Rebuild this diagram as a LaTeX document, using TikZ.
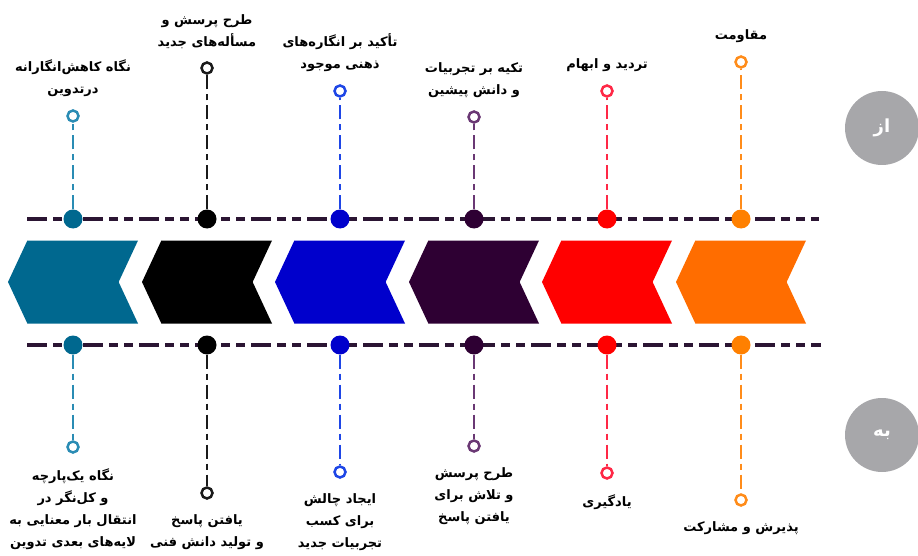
\documentclass[tikz,border=0pt]{standalone}
\usepackage{fontspec}
\usetikzlibrary{positioning}
\usetikzlibrary{shapes.symbols, positioning}
\newfontfamily\arabicfont[Script=Arabic]{DejaVu Sans}
\TeXXeTstate=1
\newcommand{\fa}[1]{\beginR #1\endR}

\definecolor{viewc}{HTML}{00688F}
\definecolor{viewl}{HTML}{2A8CB4}
\definecolor{askc}{HTML}{000000}
\definecolor{askl}{HTML}{1A1A1A}
\definecolor{stressc}{HTML}{0000CC}
\definecolor{stressl}{HTML}{1E46E6}
\definecolor{relyc}{HTML}{2E0033}
\definecolor{relyl}{HTML}{6A3874}
\definecolor{doubtc}{HTML}{FF0000}
\definecolor{doubtl}{HTML}{FF2846}
\definecolor{resc}{HTML}{FF6D00}
\definecolor{resd}{HTML}{FF8000}
\definecolor{resl}{HTML}{FF8C1A}
\definecolor{linec}{HTML}{2B1533}
\definecolor{badgec}{HTML}{A7A7AA}

\begin{document}
\begin{tikzpicture}[x=1pt, y=-1pt,
		chev/.style={shape=signal, signal to=west, signal from=east, signal pointer angle=130, minimum width=130pt, minimum height=83pt, inner sep=0pt},
		dot/.style={circle, inner sep=0pt, minimum size=19pt},
		ring/.style={circle, draw, fill=white, line width=2.5pt, inner sep=0pt, minimum size=11pt},
		vline/.style={line width=2.5pt, dash pattern=on 14pt off 5pt on 6pt off 5pt},
		hline/.style={line width=4pt, draw=linec, dash pattern=on 20pt off 6pt on 9pt off 6pt on 9pt off 6pt},
		txt/.style={font=\arabicfont\bfseries\fontsize{13}{22}\selectfont, align=center, inner sep=0pt},
		badge/.style={circle, fill=badgec, text=white, inner sep=0pt, minimum size=74pt, font=\arabicfont\bfseries\fontsize{18}{18}\selectfont}]

		\useasboundingbox (0, 0) rectangle (918, 556);

		% Dashed rails
		\begin{scope}
			\coordinate (up_l) at (27, 219);
			\coordinate (up_r) at (819, 219);
			\coordinate (down_l) at (27, 345);
			\coordinate (down_r) at (821, 345);
			\draw [hline] (up_l) -- (up_r);
			\draw [hline] (down_l) -- (down_r);
		\end{scope}

		% Chevrons
		\begin{scope}
			\node (view_chev) at (73, 282) [chev, fill=viewc] {};
			\node (ask_chev) at (207, 282) [chev, fill=askc] {};
			\node (stress_chev) at (340, 282) [chev, fill=stressc] {};
			\node (rely_chev) at (474, 282) [chev, fill=relyc] {};
			\node (doubt_chev) at (607, 282) [chev, fill=doubtc] {};
			\node (res_chev) at (741, 282) [chev, fill=resc] {};
		\end{scope}

		% Dots on the rails
		\begin{scope}
			\node (view_up) at (73, 219) [dot, fill=viewc] {};
			\node (ask_up) at (207, 219) [dot, fill=askc] {};
			\node (stress_up) at (340, 219) [dot, fill=stressc] {};
			\node (rely_up) at (474, 219) [dot, fill=relyc] {};
			\node (doubt_up) at (607, 219) [dot, fill=doubtc] {};
			\node (res_up) at (741, 219) [dot, fill=resd] {};

			\node (view_down) at (73, 345) [dot, fill=viewc] {};
			\node (ask_down) at (207, 345) [dot, fill=askc] {};
			\node (stress_down) at (340, 345) [dot, fill=stressc] {};
			\node (rely_down) at (474, 345) [dot, fill=relyc] {};
			\node (doubt_down) at (607, 345) [dot, fill=doubtc] {};
			\node (res_down) at (741, 345) [dot, fill=resd] {};
		\end{scope}

		% From (top)
		\begin{scope}
			\node (view_top) at (73, 116) [ring, draw=viewl] {};
			\node (ask_top) at (207, 68) [ring, draw=askl] {};
			\node (stress_top) at (340, 91) [ring, draw=stressl] {};
			\node (rely_top) at (474, 117) [ring, draw=relyl] {};
			\node (doubt_top) at (607, 91) [ring, draw=doubtl] {};
			\node (res_top) at (741, 62) [ring, draw=resl] {};

			\draw [vline, viewl] (view_up) -- (view_top);
			\draw [vline, askl] (ask_up) -- (ask_top);
			\draw [vline, stressl] (stress_up) -- (stress_top);
			\draw [vline, relyl] (rely_up) -- (rely_top);
			\draw [vline, doubtl] (doubt_up) -- (doubt_top);
			\draw [vline, resl] (res_up) -- (res_top);

			\node (view_top_txt) [txt, above = 12pt of view_top] {\fa{نگاه کاهش‌انگارانه}\\\fa{درتدوین}};
			\node (ask_top_txt) [txt, above = 12pt of ask_top] {\fa{طرح پرسش و}\\\fa{مسأله‌های جدید}};
			\node (stress_top_txt) [txt, above = 12pt of stress_top] {\fa{تأکید بر انگاره‌های}\\\fa{ذهنی موجود}};
			\node (rely_top_txt) [txt, above = 12pt of rely_top] {\fa{تکیه بر تجربیات}\\\fa{و دانش پیشین}};
			\node (doubt_top_txt) [txt, above = 12pt of doubt_top] {\fa{تردید و ابهام}};
			\node (res_top_txt) [txt, above = 12pt of res_top] {\fa{مقاومت}};
		\end{scope}

		% To (bottom)
		\begin{scope}
			\node (view_bot) at (73, 447) [ring, draw=viewl] {};
			\node (ask_bot) at (207, 493) [ring, draw=askl] {};
			\node (stress_bot) at (340, 472) [ring, draw=stressl] {};
			\node (rely_bot) at (474, 446) [ring, draw=relyl] {};
			\node (doubt_bot) at (607, 473) [ring, draw=doubtl] {};
			\node (res_bot) at (741, 500) [ring, draw=resl] {};

			\draw [vline, viewl] (view_down) -- (view_bot);
			\draw [vline, askl] (ask_down) -- (ask_bot);
			\draw [vline, stressl] (stress_down) -- (stress_bot);
			\draw [vline, relyl] (rely_down) -- (rely_bot);
			\draw [vline, doubtl] (doubt_down) -- (doubt_bot);
			\draw [vline, resl] (res_down) -- (res_bot);

			\node (view_bot_txt) [txt, below = 15pt of view_bot] {\fa{نگاه یک‌پارچه}\\\fa{و کل‌نگر در}\\\fa{انتقال بار معنایی به}\\\fa{لایه‌های بعدی تدوین}};
			\node (ask_bot_txt) [txt, below = 15pt of ask_bot] {\fa{یافتن پاسخ}\\\fa{و تولید دانش فنی}};
			\node (stress_bot_txt) [txt, below = 15pt of stress_bot] {\fa{ایجاد چالش}\\\fa{برای کسب}\\\fa{تجربیات جدید}};
			\node (rely_bot_txt) [txt, below = 15pt of rely_bot] {\fa{طرح پرسش}\\\fa{و تلاش برای}\\\fa{یافتن پاسخ}};
			\node (doubt_bot_txt) [txt, below = 15pt of doubt_bot] {\fa{یادگیری}};
			\node (res_bot_txt) [txt, below = 15pt of res_bot] {\fa{پذیرش و مشارکت}};
		\end{scope}

		% From / to badges
		\begin{scope}
			\node (from_badge) at (882, 128) [badge] {\beginR از\endR};
			\node (to_badge) at (882, 435) [badge] {\beginR به\endR};
		\end{scope}

	\end{tikzpicture}
\end{document}
